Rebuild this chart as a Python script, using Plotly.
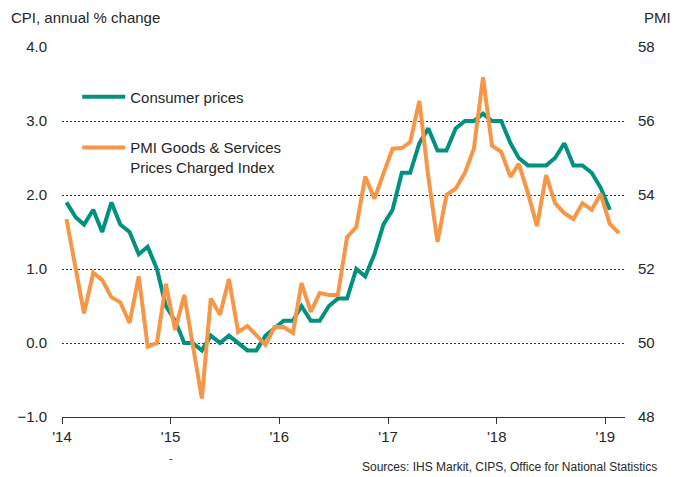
import plotly.graph_objects as go
import pandas as pd

# ---- data ----
cpi = [1.9, 1.7, 1.6, 1.8, 1.5, 1.9, 1.6, 1.5, 1.2, 1.3, 1.0, 0.5,
       0.3, 0.0, 0.0, -0.1, 0.1, 0.0, 0.1, 0.0, -0.1, -0.1, 0.1, 0.2,
       0.3, 0.3, 0.5, 0.3, 0.3, 0.5, 0.6, 0.6, 1.0, 0.9, 1.2, 1.6,
       1.8, 2.3, 2.3, 2.7, 2.9, 2.6, 2.6, 2.9, 3.0, 3.0, 3.1, 3.0,
       3.0, 2.7, 2.5, 2.4, 2.4, 2.4, 2.5, 2.7, 2.4, 2.4, 2.3, 2.1,
       1.8]
pmi = [53.35, 52.05, 50.8, 51.9, 51.7, 51.24, 51.1, 50.54, 51.8, 49.9, 50.0, 51.6,
       50.35, 51.3, 49.95, 48.5, 51.2, 50.76, 51.73, 50.3, 50.46, 50.2, 49.95, 50.43,
       50.43, 50.27, 51.62, 50.84, 51.35, 51.3, 51.3, 52.86, 53.13, 54.5, 53.9, 54.57,
       55.25, 55.27, 55.43, 56.54, 54.49, 52.73, 54.0, 54.17, 54.6, 55.25, 57.18, 55.33,
       55.17, 54.49, 54.84, 54.05, 53.16, 54.54, 53.78, 53.51, 53.35, 53.78, 53.6, 54.03,
       53.22, 52.97]
year_ticks = ["2014-01-01", "2015-01-01", "2016-01-01", "2017-01-01", "2018-01-01", "2019-01-01"]
year_labels = ["'14", "'15", "'16", "'17", "'18", "'19"]

cpi_dates = pd.date_range("2014-01-01", periods=len(cpi), freq="MS") + pd.Timedelta(days=15)
pmi_dates = pd.date_range("2014-01-01", periods=len(pmi), freq="MS") + pd.Timedelta(days=15)

TEAL = "#00917F"
ORANGE = "#F79646"
FONT = "Liberation Sans, Arial, sans-serif"
TXT = "#262626"

fig = go.Figure()
fig.add_trace(go.Scatter(x=cpi_dates, y=cpi, name="Consumer prices", mode="lines",
                         line=dict(color=TEAL, width=4), yaxis="y", legend="legend",
                         showlegend=True))
fig.add_trace(go.Scatter(x=pmi_dates, y=pmi, name="PMI Goods & Services<br>Prices Charged Index",
                         mode="lines", line=dict(color=ORANGE, width=4), yaxis="y2",
                         legend="legend2", showlegend=True))

fig.update_layout(
    width=674, height=477,
    showlegend=True,
    margin=dict(l=62, r=49, t=47, b=60),
    paper_bgcolor="white", plot_bgcolor="white",
    font=dict(family=FONT, size=15, color=TXT),
    xaxis=dict(type="date", range=["2014-01-01", "2019-03-08"],
               tickvals=year_ticks, ticktext=year_labels,
               ticks="outside", ticklen=6, tickcolor="#333", tickwidth=1,
               showline=True, linecolor="#333", linewidth=1, showgrid=False,
               zeroline=False, tickfont=dict(size=15, color=TXT)),
    yaxis=dict(range=[-1, 4], dtick=1, tickformat=".1f", showgrid=True,
               gridcolor="#333", griddash="2px,2px", gridwidth=1, zeroline=False,
               showline=False, ticks="", ticklabelstandoff=14,
               tickfont=dict(size=15, color=TXT)),
    yaxis2=dict(range=[48, 58], dtick=2, overlaying="y", side="right", showgrid=False,
                zeroline=False, showline=False, ticks="", ticklabelstandoff=12,
                tickfont=dict(size=15, color=TXT)),
    legend=dict(x=0.027, y=0.865, xanchor="left", yanchor="middle",
                bgcolor="rgba(0,0,0,0)", font=dict(size=15, color=TXT), itemwidth=43),
    legend2=dict(x=0.027, y=0.772, xanchor="left", yanchor="top", valign="top",
                 bgcolor="rgba(0,0,0,0)", font=dict(size=15, color=TXT), itemwidth=43),
    annotations=[
        dict(text="CPI, annual % change", xref="paper", yref="paper", x=-0.095, y=1.08,
             xanchor="left", yanchor="middle", showarrow=False, font=dict(size=15, color=TXT)),
        dict(text="PMI", xref="paper", yref="paper", x=1.085, y=1.08,
             xanchor="right", yanchor="middle", showarrow=False, font=dict(size=15, color=TXT)),
        dict(text="Sources: IHS Markit, CIPS, Office for National Statistics", xref="paper",
             yref="paper", x=1.06, y=-0.135, xanchor="right", yanchor="middle",
             showarrow=False, font=dict(size=12, color=TXT)),
        dict(text="-", xref="x", yref="paper", x="2015-01-01", y=-0.11, xanchor="center",
             yanchor="middle", showarrow=False, font=dict(size=11, color=TXT)),
    ],
)

fig.write_html("out.html")
